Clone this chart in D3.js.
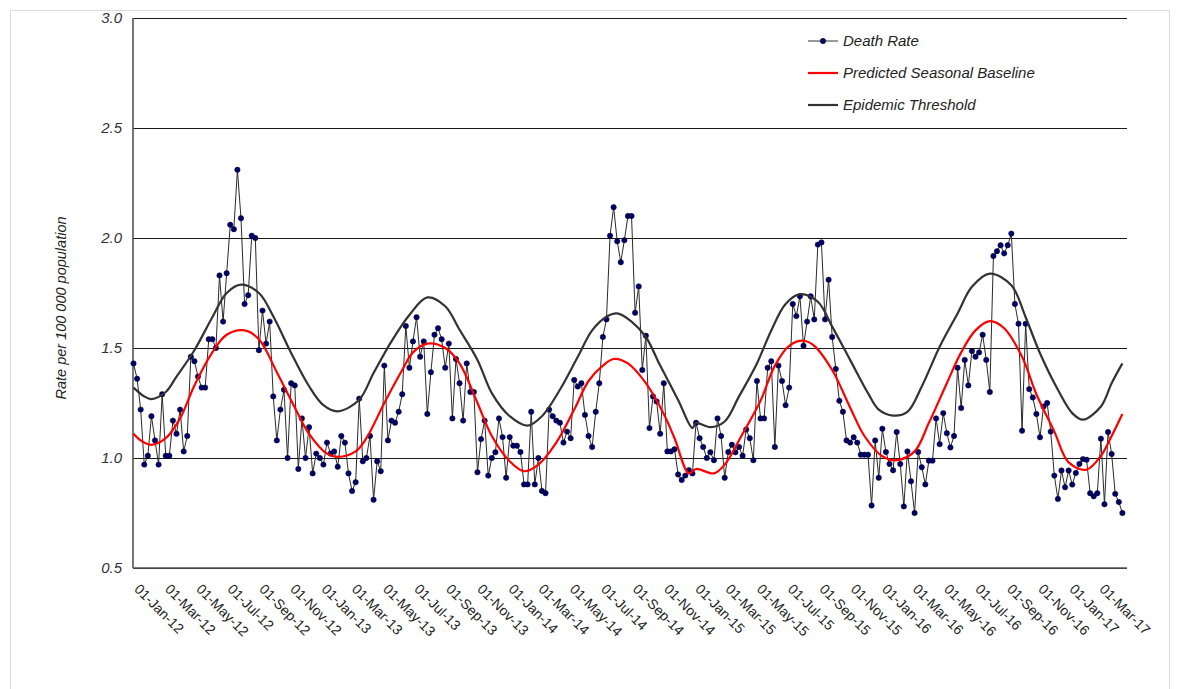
<!DOCTYPE html>
<html><head><meta charset="utf-8">
<script src="https://cdn.jsdelivr.net/npm/d3@7"></script>
<style>
body{margin:0;background:#fff;}
svg{display:block;}
text{font-family:"Liberation Sans",Arial,sans-serif;}
</style>
</head><body>
<svg id="chart" width="1179" height="689"></svg>
<script>
// ---------------- data ----------------
const firstWeek = "2012-01-02";            // date of first weekly observation
const xDomainDates = ["2012-01-01", "2017-04-26"];
const xTickFirst = "2012-01-01";
const xTickLast = "2017-03-01";
const yTicks = [0.5, 1.0, 1.5, 2.0, 2.5, 3.0];
const seriesNames = ["Death Rate", "Predicted Seasonal Baseline", "Epidemic Threshold"];
const yTitle = "Rate per 100 000 population";

// weekly death rate
const deathRate = [
1.43,1.36,1.22,0.97,1.01,1.19,1.08,0.97,1.29,1.01,1.01,1.17,1.11,1.22,1.03,1.10,1.46,1.44,1.37,1.32,
1.32,1.54,1.54,1.50,1.83,1.62,1.84,2.06,2.04,2.31,2.09,1.70,1.74,2.01,2.00,1.49,1.67,1.52,1.62,1.28,
1.08,1.22,1.31,1.00,1.34,1.33,0.95,1.18,1.00,1.14,0.93,1.02,1.00,0.97,1.07,1.02,1.03,0.96,1.10,1.07,
0.93,0.85,0.89,1.27,0.985,1.00,1.10,0.81,0.985,0.94,1.42,1.08,1.17,1.16,1.21,1.29,1.60,1.41,1.53,1.64,
1.46,1.53,1.20,1.39,1.56,1.59,1.54,1.41,1.52,1.18,1.45,1.34,1.17,1.43,1.30,1.30,0.935,1.086,1.17,0.92,
1.00,1.026,1.18,1.095,0.91,1.095,1.056,1.056,1.027,0.88,0.88,1.21,0.88,1.00,0.85,0.84,1.22,1.19,1.17,1.16,
1.07,1.12,1.09,1.355,1.325,1.34,1.196,1.10,1.05,1.21,1.34,1.55,1.63,2.01,2.14,1.985,1.89,1.99,2.10,2.10,
1.66,1.78,1.40,1.556,1.136,1.28,1.257,1.11,1.34,1.03,1.03,1.04,0.925,0.90,0.92,0.945,0.93,1.16,1.09,1.05,
1.00,1.026,0.99,1.18,1.10,0.91,1.027,1.06,1.026,1.05,1.01,1.13,1.09,0.99,1.35,1.18,1.18,1.41,1.44,1.05,
1.42,1.35,1.24,1.32,1.70,1.645,1.735,1.51,1.62,1.735,1.63,1.97,1.98,1.63,1.81,1.55,1.405,1.26,1.21,1.08,
1.07,1.094,1.07,1.015,1.015,1.015,0.784,1.08,0.91,1.133,1.027,0.973,0.944,1.118,0.973,0.78,1.03,0.894,0.75,1.027,
0.958,0.88,0.988,0.988,1.18,1.063,1.204,1.113,1.048,1.10,1.41,1.227,1.446,1.33,1.486,1.46,1.48,1.56,1.446,1.30,
1.918,1.94,1.967,1.93,1.967,2.02,1.70,1.61,1.124,1.61,1.313,1.275,1.20,1.094,1.234,1.25,1.12,0.92,0.814,0.943,
0.867,0.943,0.879,0.932,0.973,0.995,0.992,0.84,0.826,0.84,1.088,0.79,1.118,1.018,0.837,0.80,0.75
];

// predicted seasonal baseline, read at selected weeks (week index from firstWeek)
const baselineWeeks = [0,2,5,9,13,17,22,26,31,35,40,45,49,54,57,62,65,70,75,78,82,87,91,96,100,105,109,113,118,123,127,131,134,138,143,148,151,155,157,162,165,170,175,179,183,187,190,195,200,204,209,213,218,222,227,231,235,239,243,248,252,257,261,266,270,273,276];
const baselineValues = [1.11,1.08,1.06,1.09,1.18,1.33,1.48,1.56,1.58,1.54,1.39,1.23,1.11,1.02,1.005,1.03,1.09,1.25,1.40,1.48,1.52,1.50,1.43,1.25,1.10,0.985,0.94,0.97,1.07,1.22,1.35,1.42,1.45,1.43,1.34,1.20,1.09,0.93,0.95,0.93,0.97,1.11,1.26,1.42,1.51,1.533,1.51,1.40,1.23,1.10,1.008,0.99,1.03,1.16,1.34,1.48,1.58,1.622,1.59,1.46,1.29,1.12,0.98,0.947,1.01,1.10,1.20];

// epidemic threshold, read at selected weeks
const thresholdWeeks = [0,3,5,9,12,17,22,26,30,35,39,44,49,53,57,63,67,72,77,82,87,91,96,100,105,110,114,119,124,128,132,135,139,143,147,152,156,157,161,165,169,174,178,182,186,191,195,200,205,208,212,216,220,225,230,234,239,245,249,253,258,262,265,270,273,276];
const thresholdValues = [1.32,1.28,1.268,1.30,1.37,1.49,1.64,1.75,1.788,1.75,1.644,1.477,1.326,1.24,1.212,1.265,1.386,1.53,1.65,1.73,1.69,1.583,1.446,1.295,1.19,1.147,1.19,1.31,1.46,1.58,1.642,1.657,1.62,1.55,1.42,1.264,1.136,1.159,1.14,1.166,1.28,1.43,1.58,1.70,1.745,1.71,1.597,1.446,1.295,1.22,1.193,1.21,1.325,1.506,1.657,1.778,1.838,1.785,1.64,1.476,1.31,1.204,1.174,1.234,1.34,1.43];

// ---------------- chart ----------------
const svg = d3.select("#chart");
const P = {left: 133, right: 1127, top: 18, bottom: 568};
const utc = s => new Date(s + "T00:00:00Z");
const start = utc(firstWeek);
const weekDate = i => d3.utcDay.offset(start, 7 * i);

const x = d3.scaleUtc().domain(xDomainDates.map(utc)).range([P.left, P.right]);
const y = d3.scaleLinear().domain([0.5, 3.0]).range([P.bottom, P.top]);

// outer frame
svg.append("rect").attr("x", 10.5).attr("y", 10.5).attr("width", 1159).attr("height", 700)
  .attr("fill", "none").attr("stroke", "#dcdcdc").attr("stroke-width", 1);

// y axis with gridlines
const gy = svg.append("g").attr("transform", `translate(${P.left},0)`)
  .call(d3.axisLeft(y).tickValues(yTicks).tickSize(-(P.right - P.left)).tickPadding(11)
        .tickFormat(d3.format(".1f")));
gy.select(".domain").remove();
gy.selectAll(".tick line").attr("stroke", "#1a1a1a").attr("stroke-width", 1.2);
gy.selectAll(".tick text").attr("font-size", 15).attr("font-style", "italic").attr("fill", "#333")
  .attr("font-family", "'Liberation Sans', Arial, sans-serif");

// axis lines
svg.append("line").attr("x1", P.left).attr("x2", P.left).attr("y1", P.top).attr("y2", P.bottom)
  .attr("stroke", "#555").attr("stroke-width", 1.6);
svg.append("line").attr("x1", P.left).attr("x2", P.right).attr("y1", P.bottom).attr("y2", P.bottom)
  .attr("stroke", "#555").attr("stroke-width", 1.6);

// x axis
const xTickVals = d3.utcMonth.every(2).range(utc(xTickFirst), d3.utcDay.offset(utc(xTickLast), 1));
const gx = svg.append("g").attr("transform", `translate(0,${P.bottom})`)
  .call(d3.axisBottom(x).tickValues(xTickVals).tickSize(0).tickFormat(d3.utcFormat("%d-%b-%y")));
gx.select(".domain").remove();
gx.selectAll(".tick text")
  .attr("y", null).attr("dy", null)
  .attr("text-anchor", "start")
  .attr("transform", "translate(0,22) rotate(45)")
  .attr("font-size", 14).attr("fill", "#222")
  .attr("font-family", "'Liberation Sans', Arial, sans-serif");

// y title
svg.append("text").attr("transform", "translate(66,308) rotate(-90)")
  .attr("text-anchor", "middle").attr("font-size", 14.5).attr("font-style", "italic").attr("fill", "#222")
  .text(yTitle);

// death rate
const drPts = deathRate.map((v, i) => ({d: weekDate(i), v}));
svg.append("path").datum(drPts)
  .attr("fill", "none").attr("stroke", "#2a2a2a").attr("stroke-width", 1)
  .attr("d", d3.line().x(p => x(p.d)).y(p => y(p.v)));
svg.append("g").selectAll("circle").data(drPts).join("circle")
  .attr("cx", p => x(p.d)).attr("cy", p => y(p.v)).attr("r", 2.7)
  .attr("fill", "#000066").attr("stroke", "#000033").attr("stroke-width", 0.5);

// baseline & threshold
const smooth = d3.line().curve(d3.curveCatmullRom.alpha(0.5)).x(p => x(p.d)).y(p => y(p.v));
const blPts = baselineWeeks.map((w, i) => ({d: weekDate(w), v: baselineValues[i]}));
const thPts = thresholdWeeks.map((w, i) => ({d: weekDate(w), v: thresholdValues[i]}));
svg.append("path").datum(blPts).attr("fill", "none").attr("stroke", "#ff0000").attr("stroke-width", 2.2).attr("d", smooth);
svg.append("path").datum(thPts).attr("fill", "none").attr("stroke", "#333333").attr("stroke-width", 2.2).attr("d", smooth);

// legend
const legend = svg.append("g");
const legY = [41, 73, 105];
const legColor = ["#333", "#ff0000", "#333"];
seriesNames.forEach((name, i) => {
  legend.append("line").attr("x1", 808).attr("x2", 838).attr("y1", legY[i]).attr("y2", legY[i])
    .attr("stroke", legColor[i]).attr("stroke-width", i === 0 ? 1 : 2.2);
  if (i === 0) legend.append("circle").attr("cx", 823).attr("cy", legY[i]).attr("r", 2.7)
    .attr("fill", "#000066").attr("stroke", "#000033").attr("stroke-width", 0.5);
  legend.append("text").attr("x", 843).attr("y", legY[i]).attr("dy", "0.35em")
    .attr("font-size", 15).attr("font-style", "italic").attr("fill", "#222").text(name);
});
</script>
</body></html>
